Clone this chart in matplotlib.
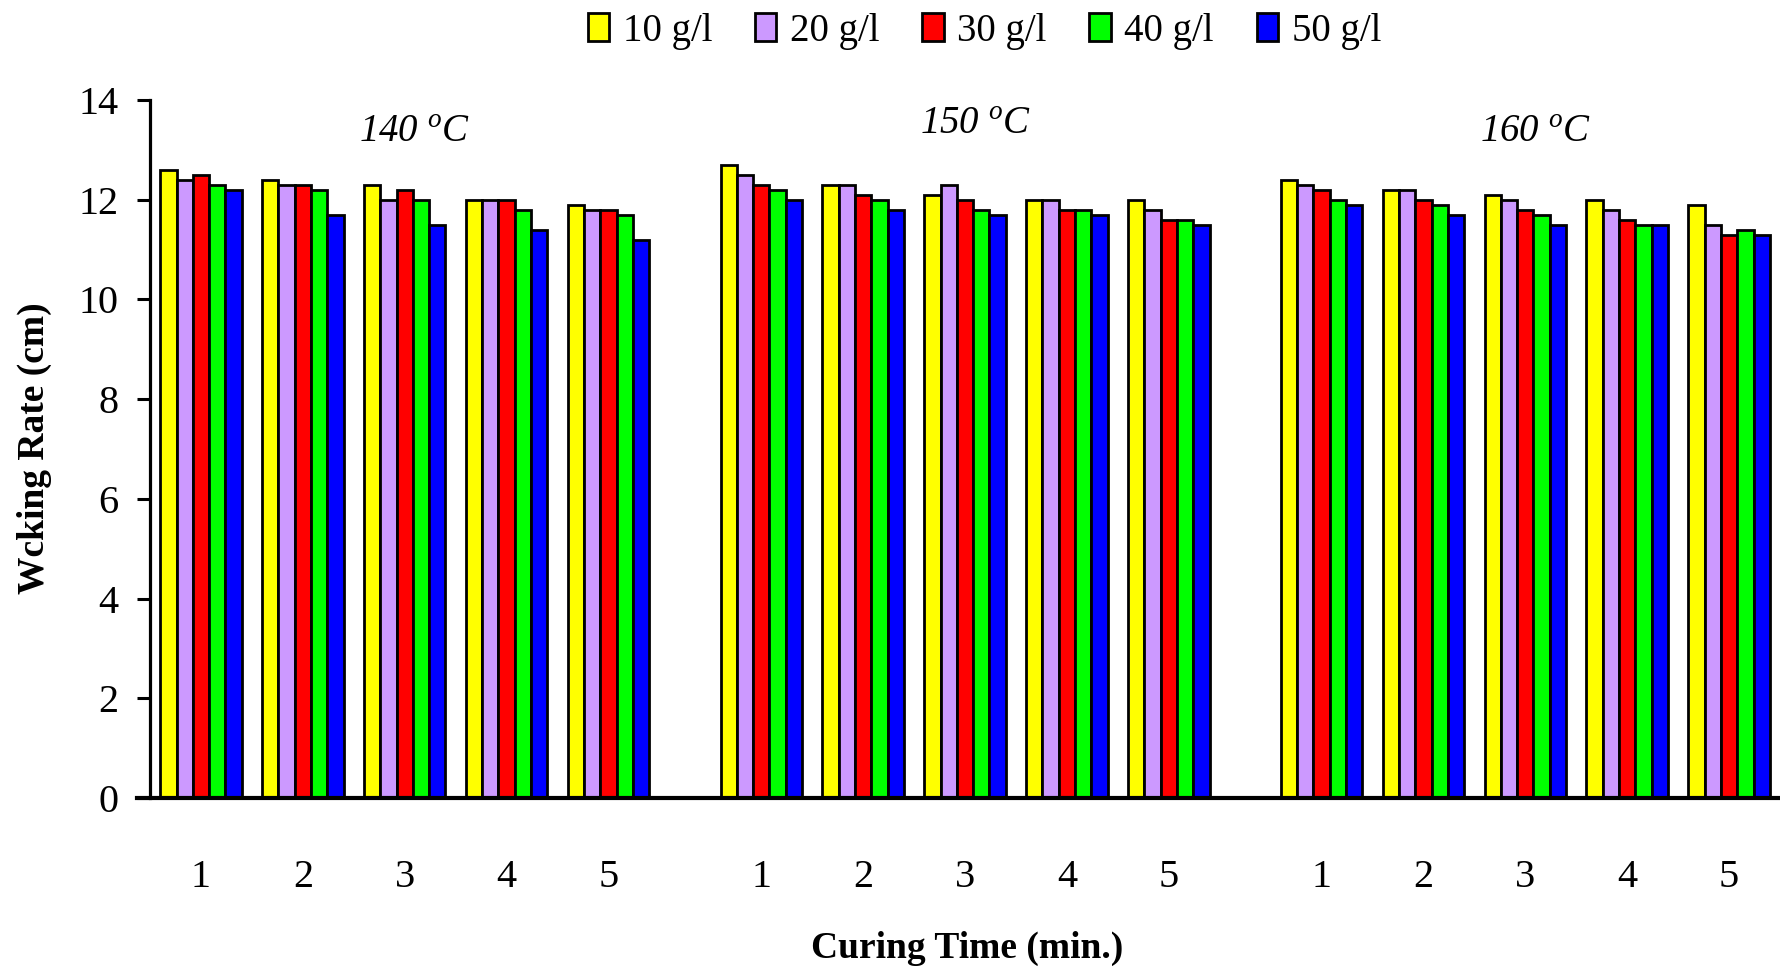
import numpy as np
from matplotlib import pyplot as plt

plt.rcParams['font.family'] = ['Liberation Serif', 'DejaVu Serif']
plt.rcParams['mathtext.fontset'] = 'custom'
plt.rcParams['mathtext.rm'] = 'Liberation Serif'
plt.rcParams['mathtext.it'] = 'Liberation Serif:italic'
plt.rcParams['mathtext.default'] = 'it'

# data
temps = ['140', '150', '160']
times = ['1', '2', '3', '4', '5']
concs = ['10 g/l', '20 g/l', '30 g/l', '40 g/l', '50 g/l']
colors = ['#FFFF00', '#CC99FF', '#FF0000', '#00FF00', '#0000FF']

# rows = curing time 1..5, columns = 10..50 g/l
rate_140 = [[12.6, 12.4, 12.5, 12.3, 12.2],
            [12.4, 12.3, 12.3, 12.2, 11.7],
            [12.3, 12.0, 12.2, 12.0, 11.5],
            [12.0, 12.0, 12.0, 11.8, 11.4],
            [11.9, 11.8, 11.8, 11.7, 11.2]]
rate_150 = [[12.7, 12.5, 12.3, 12.2, 12.0],
            [12.3, 12.3, 12.1, 12.0, 11.8],
            [12.1, 12.3, 12.0, 11.8, 11.7],
            [12.0, 12.0, 11.8, 11.8, 11.7],
            [12.0, 11.8, 11.6, 11.6, 11.5]]
rate_160 = [[12.4, 12.3, 12.2, 12.0, 11.9],
            [12.2, 12.2, 12.0, 11.9, 11.7],
            [12.1, 12.0, 11.8, 11.7, 11.5],
            [12.0, 11.8, 11.6, 11.5, 11.5],
            [11.9, 11.5, 11.3, 11.4, 11.3]]
rates = [rate_140, rate_150, rate_160]

fig = plt.figure(figsize=(17.8, 9.74), dpi=100)
ax = fig.add_axes([0.0843, 0.1807, 0.9157, 0.7166])

group_gap = 5.5
bw = 0.16
for g, data in enumerate(rates):
    data = np.array(data)
    centers = np.arange(len(times)) + g * group_gap
    for k in range(len(concs)):
        ax.bar(centers - 0.4 + bw * (k + 0.5), data[:, k], width=bw,
               color=colors[k], edgecolor='black', linewidth=2,
               label=concs[k] if g == 0 else None)
    # temperature label
    ax.text(centers[2] + 0.1, 13.35 if g != 1 else 13.5,
            temps[g] + r' $^{o}$C', fontstyle='italic',
            ha='center', va='center', fontsize=28)

pos = np.concatenate([np.arange(5) + g * group_gap for g in range(3)])
ax.set_xticks(pos)
ax.set_xticklabels(times * 3)
ax.set_xlim(-0.5, 15.5)
ax.set_ylim(0, 14)
ax.set_yticks(np.arange(0, 15, 2))

ax.spines['top'].set_visible(False)
ax.spines['right'].set_visible(False)
ax.spines['left'].set_linewidth(2.3)
ax.spines['bottom'].set_linewidth(3)
ax.spines['bottom'].set_bounds(-0.63, 15.5)

ax.tick_params(axis='x', length=0, pad=44, labelsize=29)
ax.tick_params(axis='y', length=9.5, width=2.2, pad=13, labelsize=29)

fig.text(34 / 1780, 1 - 448 / 974, 'Wcking Rate (cm)', rotation=90,
         ha='center', va='center', fontsize=27, fontweight='bold')
fig.text(967 / 1780, 1 - 948 / 974, 'Curing Time (min.)',
         ha='center', va='center', fontsize=27, fontweight='bold')

fig.legend(loc='center', bbox_to_anchor=(0.553, 0.968), ncol=5,
           frameon=False, fontsize=28, handlelength=0.55, handleheight=0.75,
           handletextpad=0.35, columnspacing=1.1)

plt.savefig('out.png', dpi=100)
